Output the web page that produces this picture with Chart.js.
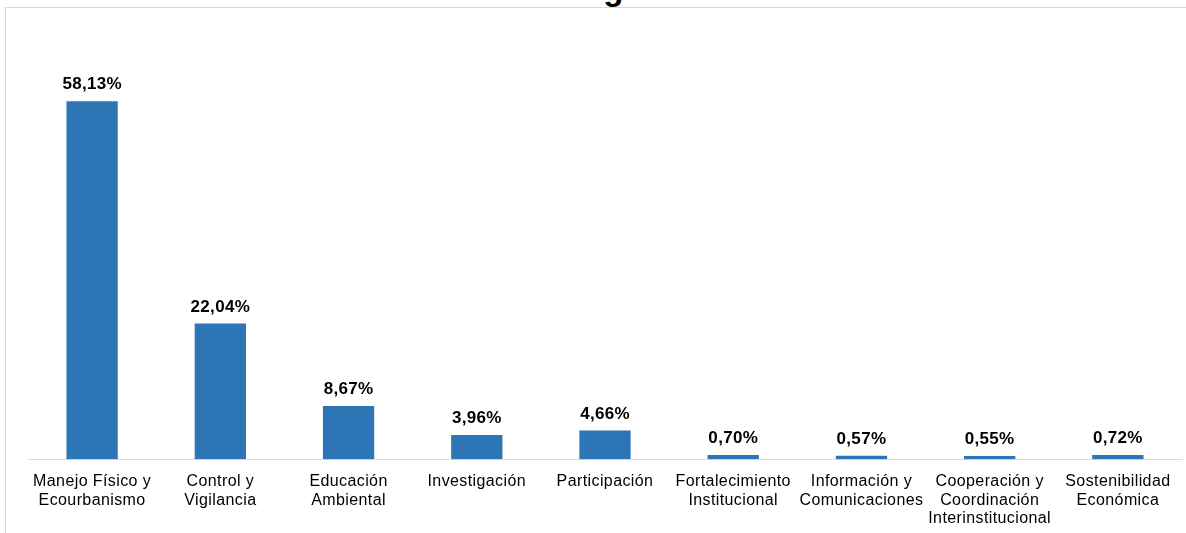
<!DOCTYPE html>
<html>
<head>
<meta charset="utf-8">
<script src="https://cdn.jsdelivr.net/npm/chart.js@4/dist/chart.umd.min.js"></script>
<style>
  html, body { margin: 0; padding: 0; background: #fff; overflow: hidden; }
  body { width: 1186px; height: 533px; position: relative; }
  #frame {
    position: absolute; left: 5px; top: 7px; width: 1190px; height: 540px;
    border-left: 1px solid #d9d9d9; border-top: 1px solid #d9d9d9;
  }
  #title {
    position: absolute; left: 383px; width: 400px; top: -28px;
    text-align: center; font: bold 33px "Liberation Sans", Arial, sans-serif;
    line-height: 33px; color: #000;
  }
  #wrap { position: absolute; left: 6px; top: 8px; width: 1180px; height: 533px; }
</style>
</head>
<body>
<div id="frame"></div>
<div id="title">estratégico</div>
<div id="wrap"><canvas id="chart"></canvas></div>
<script>
  // Categories (multi-line labels as in the reference)
  const categories = [
    ['Manejo Físico y', 'Ecourbanismo'],
    ['Control y', 'Vigilancia'],
    ['Educación', 'Ambiental'],
    ['Investigación'],
    ['Participación'],
    ['Fortalecimiento', 'Institucional'],
    ['Información y', 'Comunicaciones'],
    ['Cooperación y', 'Coordinación', 'Interinstitucional'],
    ['Sostenibilidad', 'Económica']
  ];

  // Percentages per strategic program
  const values = [58.13, 22.04, 8.67, 3.96, 4.66, 0.70, 0.57, 0.55, 0.72];

  const fmt = v => v.toFixed(2).replace('.', ',') + '%';

  // slightly wider text, like the reference rendering
  const spacing = {
    id: 'spacing',
    beforeDraw(chart) { chart.ctx.letterSpacing = '0.4px'; }
  };

  // Draw value labels above each bar
  const valueLabels = {
    id: 'valueLabels',
    afterDatasetsDraw(chart) {
      const ctx = chart.ctx;
      const meta = chart.getDatasetMeta(0);
      ctx.save();
      ctx.letterSpacing = '0.3px';
      ctx.font = 'bold 17px "Liberation Sans", Arial, sans-serif';
      ctx.fillStyle = '#000';
      ctx.textAlign = 'center';
      ctx.textBaseline = 'bottom';
      meta.data.forEach((bar, i) => {
        ctx.fillText(fmt(values[i]), bar.x, bar.y - 8);
      });
      ctx.restore();
    }
  };

  new Chart(document.getElementById('chart'), {
    type: 'bar',
    data: {
      labels: categories,
      datasets: [{
        data: values,
        backgroundColor: '#2E75B6',
        borderWidth: 0,
        categoryPercentage: 1,
        barPercentage: 0.4
      }]
    },
    options: {
      responsive: true,
      maintainAspectRatio: false,
      animation: false,
      layout: { padding: { left: 22, right: 4, top: 51, bottom: 0 } },
      plugins: {
        legend: { display: false },
        tooltip: { enabled: false }
      },
      scales: {
        x: {
          grid: { display: false, drawTicks: false },
          border: { display: true, color: '#d9d9d9', width: 1 },
          ticks: {
            color: '#000',
            padding: 13,
            maxRotation: 0,
            autoSkip: false,
            font: { family: '"Liberation Sans", Arial, sans-serif', size: 16, lineHeight: 1.16 }
          }
        },
        y: {
          display: false,
          min: 0,
          max: 65
        }
      }
    },
    plugins: [spacing, valueLabels]
  });
</script>
</body>
</html>
